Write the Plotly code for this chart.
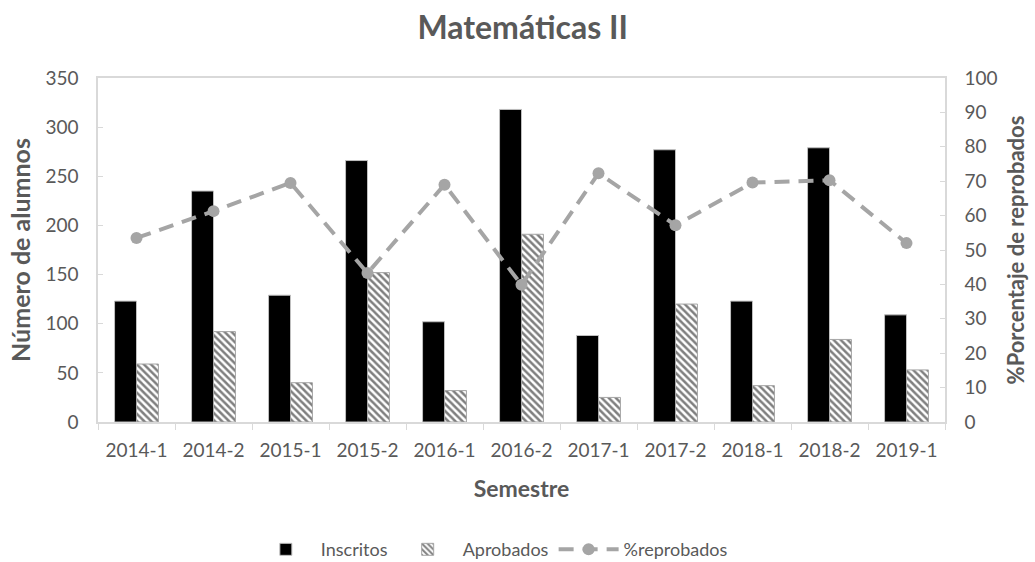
import plotly.graph_objects as go

semestres = ["2014-1", "2014-2", "2015-1", "2015-2", "2016-1", "2016-2",
             "2017-1", "2017-2", "2018-1", "2018-2", "2019-1"]
inscritos = [123, 235, 129, 266, 102, 318, 88, 277, 123, 279, 109]
aprobados = [59, 92, 40, 152, 32, 191, 25, 120, 37, 84, 53]
pct_reprobados = [53.5, 61.3, 69.5, 43.3, 69.0, 39.9, 72.3, 57.2, 69.6, 70.3, 52.0]

GREY_TXT = "#595959"
AXIS_LINE = "#d9d9d9"
FONT = "Lato"

fig = go.Figure()

fig.add_trace(go.Bar(
    x=semestres, y=inscritos, name="Inscritos",
    marker=dict(color="black", line=dict(color="#bfbfbf", width=1)),
))
fig.add_trace(go.Bar(
    x=semestres, y=aprobados, name="Aprobados",
    marker=dict(color="white", line=dict(color="#a6a6a6", width=1),
                pattern=dict(shape="\\", fgcolor="black", bgcolor="white",
                             size=5, solidity=0.5)),
))
fig.add_trace(go.Scatter(
    x=semestres, y=pct_reprobados, name="%reprobados", yaxis="y2",
    mode="lines+markers",
    line=dict(color="#a5a5a5", width=4, dash="15px,9px"),
    marker=dict(color="#a5a5a5", size=12, symbol="circle"),
))

fig.update_layout(
    width=1035, height=562,
    margin=dict(l=98, r=90, t=78, b=140, autoexpand=False),
    paper_bgcolor="white", plot_bgcolor="white",
    font=dict(family=FONT, color=GREY_TXT, size=19),
    title=dict(text="<b>Matemáticas II</b>", x=0.505, xanchor="center",
               y=0.95, yanchor="middle",
               font=dict(family=FONT, size=32, color=GREY_TXT)),
    barmode="group", bargap=0.43, bargroupgap=0,
    showlegend=True,
    legend=dict(orientation="h", x=0.465, xanchor="center",
                yref="container", y=0.022, yanchor="middle",
                font=dict(size=18, color=GREY_TXT),
                itemwidth=60, traceorder="normal"),
    xaxis=dict(
        type="category", range=[-0.5, len(semestres) - 0.5],
        showline=True, linecolor=AXIS_LINE, linewidth=1.5, mirror=True,
        ticks="outside", tickson="boundaries", ticklen=6, tickcolor=AXIS_LINE,
        ticklabelstandoff=10,
        showgrid=False, tickfont=dict(size=19, color=GREY_TXT),
        title=dict(text="<b>Semestre</b>", font=dict(size=23, color=GREY_TXT),
                   standoff=21),
    ),
    yaxis=dict(
        range=[0, 350], dtick=50, showgrid=False, zeroline=False,
        showline=True, linecolor=AXIS_LINE, linewidth=1.5,
        ticks="inside", ticklen=5, tickcolor=AXIS_LINE,
        ticklabelstandoff=14,
        tickfont=dict(size=19, color=GREY_TXT),
        title=dict(text="<b>Número de alumnos</b>",
                   font=dict(size=25, color=GREY_TXT), standoff=8),
    ),
    yaxis2=dict(
        range=[0, 100], dtick=10, overlaying="y", side="right",
        showgrid=False, zeroline=False,
        showline=True, linecolor=AXIS_LINE, linewidth=1.5,
        ticks="inside", ticklen=5, tickcolor=AXIS_LINE,
        ticklabelstandoff=14,
        tickfont=dict(size=19, color=GREY_TXT),
        title=dict(text="<b>%Porcentaje de reprobados</b>",
                   font=dict(size=22, color=GREY_TXT), standoff=12),
    ),
)

fig.write_html("out.html")
